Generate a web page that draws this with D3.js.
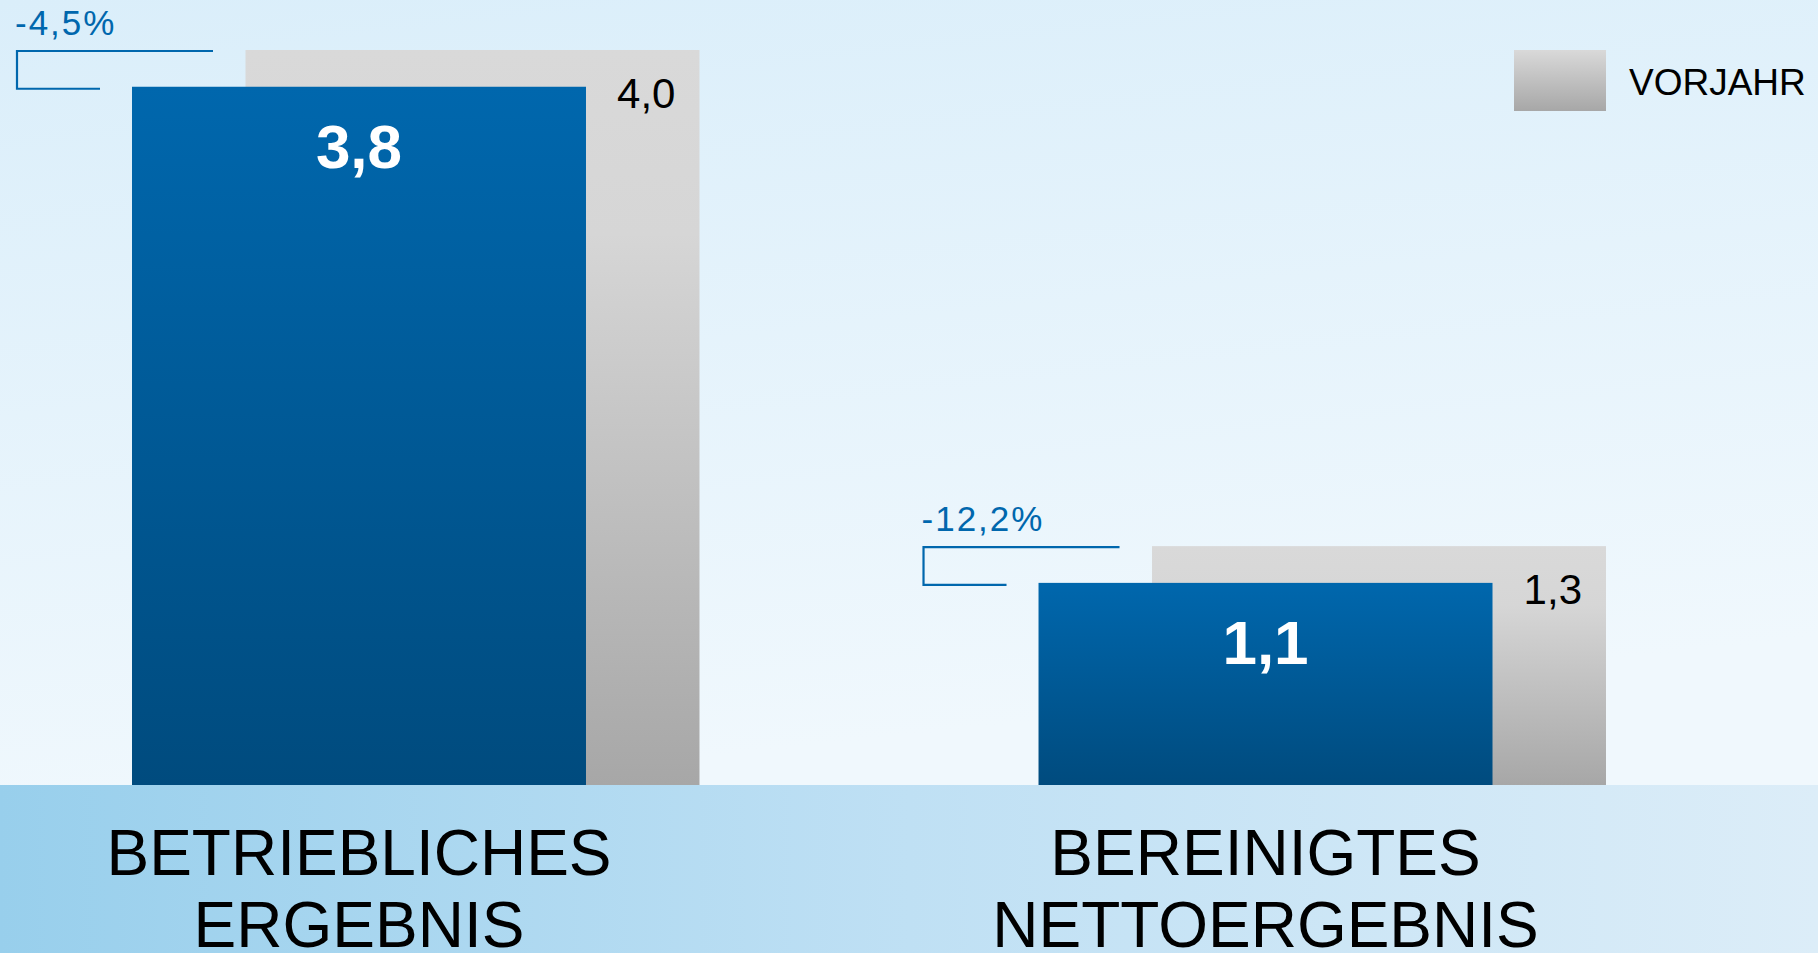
<!DOCTYPE html>
<meta charset="utf-8">
<script src="https://d3js.org/d3.v7.min.js"></script>
<style>
  body { margin: 0; overflow: hidden; }
  svg { display: block; font-family: "Liberation Sans", Arial, sans-serif; }
</style>
<body>
<div id="chart"></div>
<script>

    // data
    var categories = [["BETRIEBLICHES", "ERGEBNIS"], ["BEREINIGTES", "NETTOERGEBNIS"]];
    var current = [3.8, 1.1];
    var previous = [4.0, 1.3];
    var currentLabels = ["3,8", "1,1"];
    var previousLabels = ["4,0", "1,3"];
    var changes = ["-4,5%", "-12,2%"];
    var legendLabel = "VORJAHR";

    var width = 1818, height = 953, baseline = 785;

    var svg = d3.select("#chart")
      .append("svg")
        .attr("width", width)
        .attr("height", height);

    var defs = svg.append("defs");

    function gradient(id, x2, y2, stops) {
        var g = defs.append("linearGradient")
            .attr("id", id)
            .attr("x1", 0).attr("y1", 0)
            .attr("x2", x2).attr("y2", y2);
        stops.forEach(function(s) {
            g.append("stop").attr("offset", s[0]).attr("stop-color", s[1]);
        });
    }
    gradient("bg", 0.25, 1, [[0, "#daeefa"], [1, "#f0f8fd"]]);
    gradient("band", 1, 0, [[0, "#98cfec"], [0.5, "#bfe0f4"], [1, "#dcedf8"]]);
    gradient("blue", 0, 1, [[0, "#0067ad"], [1, "#004b7e"]]);
    gradient("gray", 0, 1, [[0, "#d9d9d9"], [0.25, "#d6d6d6"], [1, "#a7a7a7"]]);
    gradient("grayLegend", 0, 1, [[0, "#d9d9d9"], [1, "#a7a7a7"]]);

    // background
    svg.append("rect")
        .attr("width", width).attr("height", baseline)
        .attr("fill", "url(#bg)");
    svg.append("rect")
        .attr("y", baseline)
        .attr("width", width).attr("height", height - baseline)
        .attr("fill", "url(#band)");

    var x = d3.scaleBand()
        .domain(d3.range(categories.length))
        .range([132, 1606])
        .paddingInner(0.374)
        .paddingOuter(0);

    var y = d3.scaleLinear()
        .domain([0, d3.max(previous)])
        .range([baseline, 50]);

    var bw = x.bandwidth() * 0.8;
    var shift = x.bandwidth() * 0.2;

    var groups = svg.selectAll(".group")
        .data(d3.range(categories.length))
      .enter()
      .append("g")
        .attr("class", "group");

    // previous year (behind)
    groups.append("rect")
        .attr("x", function(i) { return x(i) + shift; })
        .attr("y", function(i) { return y(previous[i]); })
        .attr("width", bw)
        .attr("height", function(i) { return baseline - y(previous[i]); })
        .attr("fill", "url(#gray)");

    groups.append("text")
        .attr("x", function(i) { return x(i) + shift + bw - 24; })
        .attr("y", function(i) { return y(previous[i]) + 58; })
        .attr("text-anchor", "end")
        .attr("font-size", 42)
        .attr("fill", "#000")
        .text(function(i) { return previousLabels[i]; });

    // current year
    groups.append("rect")
        .attr("x", function(i) { return x(i); })
        .attr("y", function(i) { return y(current[i]); })
        .attr("width", bw)
        .attr("height", function(i) { return baseline - y(current[i]); })
        .attr("fill", "url(#blue)");

    groups.append("text")
        .attr("x", function(i) { return x(i) + bw / 2; })
        .attr("y", function(i) { return y(current[i]) + 81; })
        .attr("text-anchor", "middle")
        .attr("font-size", 62)
        .attr("font-weight", "bold")
        .attr("fill", "#fff")
        .text(function(i) { return currentLabels[i]; });

    // change bracket
    groups.append("path")
        .attr("d", function(i) {
            var x0 = x(i);
            var top = y(previous[i]) + 1, bot = y(current[i]) + 2;
            return "M" + (x0 + 81) + "," + top + "H" + (x0 - 115) + "V" + bot + "H" + (x0 - 32);
        })
        .attr("fill", "none")
        .attr("stroke", "#0067ad")
        .attr("stroke-width", 2.2);

    groups.append("text")
        .attr("x", function(i) { return x(i) - 117; })
        .attr("y", function(i) { return y(previous[i]) - 15; })
        .attr("font-size", 35)
        .attr("letter-spacing", 2)
        .attr("fill", "#0067ad")
        .text(function(i) { return changes[i]; });

    // category labels
    groups.append("text")
        .attr("text-anchor", "middle")
        .attr("font-size", 64)
        .attr("fill", "#000")
        .selectAll("tspan")
        .data(function(i) { return categories[i].map(function(t) { return {t: t, i: i}; }); })
        .enter()
        .append("tspan")
        .attr("x", function(d) { return x(d.i) + bw / 2; })
        .attr("y", function(d, j) { return 875 + j * 72; })
        .text(function(d) { return d.t; });

    // legend
    svg.append("rect")
        .attr("x", 1514).attr("y", 50)
        .attr("width", 92).attr("height", 61)
        .attr("fill", "url(#grayLegend)");
    svg.append("text")
        .attr("x", 1629).attr("y", 95)
        .attr("font-size", 37)
        .attr("fill", "#000")
        .text(legendLabel);

</script>
</body>
